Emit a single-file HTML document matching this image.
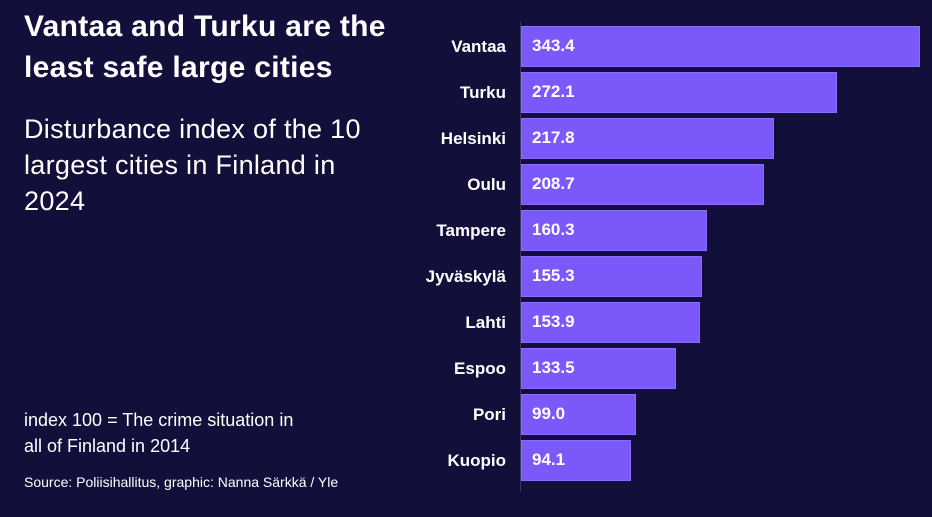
<!DOCTYPE html>
<html><head><style>
body{margin:0;width:932px;height:517px;background:#130f3b;font-family:"Liberation Sans",sans-serif;color:#fff;position:relative;overflow:hidden}
.t{position:absolute;left:24px;top:6px;font-size:30px;font-weight:bold;line-height:41px;letter-spacing:0.3px;white-space:nowrap}
.s{position:absolute;left:24px;top:111px;font-size:27px;line-height:36px;letter-spacing:0.3px;white-space:nowrap}
.n{position:absolute;left:24px;top:407px;font-size:18px;line-height:26px;white-space:nowrap}
.src{position:absolute;left:24px;top:474px;font-size:14px;white-space:nowrap}
.ax{position:absolute;left:520px;top:22px;width:1px;height:470px;background:#3a3560}
.b{position:absolute;left:521px;height:41px;background:#7b58fa;border:1px solid #8a6cff;box-sizing:border-box}
.b span{position:absolute;left:10px;top:9px;font-size:17px;font-weight:bold}
.l{position:absolute;right:426px;font-size:17px;font-weight:bold;text-align:right}
</style></head><body>
<div class="t">Vantaa and Turku are the<br>least safe large cities</div>
<div class="s">Disturbance index of the 10<br>largest cities in Finland in<br>2024</div>
<div class="n">index 100 = The crime situation in<br>all of Finland in 2014</div>
<div class="src">Source: Poliisihallitus, graphic: Nanna Särkkä / Yle</div>
<div class="ax"></div>
<div class="l" style="top:37px">Vantaa</div><div class="b" style="top:26px;width:399px"><span>343.4</span></div>
<div class="l" style="top:83px">Turku</div><div class="b" style="top:72px;width:316px"><span>272.1</span></div>
<div class="l" style="top:129px">Helsinki</div><div class="b" style="top:118px;width:253px"><span>217.8</span></div>
<div class="l" style="top:175px">Oulu</div><div class="b" style="top:164px;width:243px"><span>208.7</span></div>
<div class="l" style="top:221px">Tampere</div><div class="b" style="top:210px;width:186px"><span>160.3</span></div>
<div class="l" style="top:267px">Jyväskylä</div><div class="b" style="top:256px;width:181px"><span>155.3</span></div>
<div class="l" style="top:313px">Lahti</div><div class="b" style="top:302px;width:179px"><span>153.9</span></div>
<div class="l" style="top:359px">Espoo</div><div class="b" style="top:348px;width:155px"><span>133.5</span></div>
<div class="l" style="top:405px">Pori</div><div class="b" style="top:394px;width:115px"><span>99.0</span></div>
<div class="l" style="top:451px">Kuopio</div><div class="b" style="top:440px;width:110px"><span>94.1</span></div>
</body></html>
